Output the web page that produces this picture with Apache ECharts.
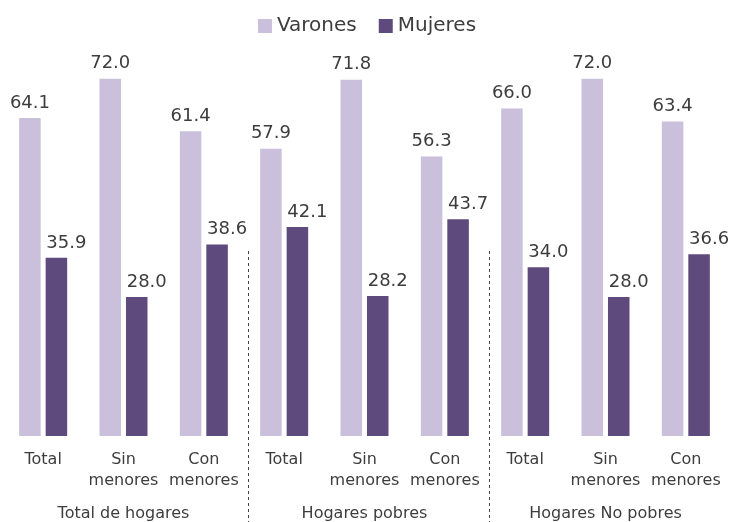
<!DOCTYPE html>
<html>
<head>
<meta charset="utf-8">
<script src="https://cdn.jsdelivr.net/npm/echarts@6/dist/echarts.min.js"></script>
<style>
html,body{margin:0;padding:0;background:#fff;}
#c{width:734px;height:522px;}
</style>
</head>
<body>
<div id="c"></div>
<script>
const categories = ['Total','Sin\nmenores','Con\nmenores','Total','Sin\nmenores','Con\nmenores','Total','Sin\nmenores','Con\nmenores'];
const groups = ['Total de hogares','Hogares pobres','Hogares No pobres'];
const varones = [64.1, 72.0, 61.4, 57.9, 71.8, 56.3, 66.0, 72.0, 63.4];
const mujeres = [35.9, 28.0, 38.6, 42.1, 28.2, 43.7, 34.0, 28.0, 36.6];
const seriesNames = ['Varones','Mujeres'];

const FONT = 'DejaVu Sans';
const TXT = '#3d3d3d';
const chart = echarts.init(document.getElementById('c'));
chart.setOption({
  animation: false,
  textStyle: {fontFamily: FONT},
  legend: {
    top: 11, left: 'center',
    itemWidth: 14, itemHeight: 14, itemGap: 22,
    icon: 'rect',
    textStyle: {fontSize: 20, color: TXT, fontFamily: FONT}
  },
  grid: {left: 3, right: 8, top: 39, bottom: 85, containLabel: false},
  xAxis: [{
    type: 'category', data: categories,
    axisLine: {show: false}, axisTick: {show: false},
    axisLabel: {fontSize: 16, color: TXT, margin: 13, lineHeight: 21, interval: 0, fontFamily: FONT}
  }, {
    type: 'category', data: groups, position: 'bottom',
    axisLine: {show: false}, axisTick: {show: false},
    axisLabel: {fontSize: 16, color: TXT, margin: 70, interval: 0, fontFamily: FONT}
  }],
  yAxis: {type: 'value', min: 0, max: 80, show: false, splitLine: {show: false}},
  series: [{
    name: seriesNames[0], type: 'bar', data: varones,
    barWidth: '26.8%', barGap: '23%',
    itemStyle: {color: '#CAC0DC'},
    label: {show: true, position: 'top', distance: 6, fontSize: 18, color: TXT, fontFamily: FONT,
      formatter: p => p.value.toFixed(1)}
  }, {
    name: seriesNames[1], type: 'bar', data: mujeres,
    barWidth: '26.8%', barGap: '23%',
    itemStyle: {color: '#5E4A7D'},
    label: {show: true, position: 'top', distance: 6, offset: [10, 0], fontSize: 18, color: TXT, fontFamily: FONT,
      formatter: p => p.value.toFixed(1)}
  }]
});

// dashed group separators, positioned from the category scale
const step = chart.convertToPixel({xAxisIndex: 0}, 1) - chart.convertToPixel({xAxisIndex: 0}, 0);
const sepAfter = [2, 5];
chart.setOption({
  graphic: sepAfter.map(i => {
    const x = Math.round(chart.convertToPixel({xAxisIndex: 0}, i) + step * 0.55) + 0.5;
    return {
      type: 'line', silent: true,
      shape: {x1: x, y1: 251, x2: x, y2: 522},
      style: {stroke: '#444', lineWidth: 1, lineDash: [3, 3]}
    };
  })
});
</script>
</body>
</html>
